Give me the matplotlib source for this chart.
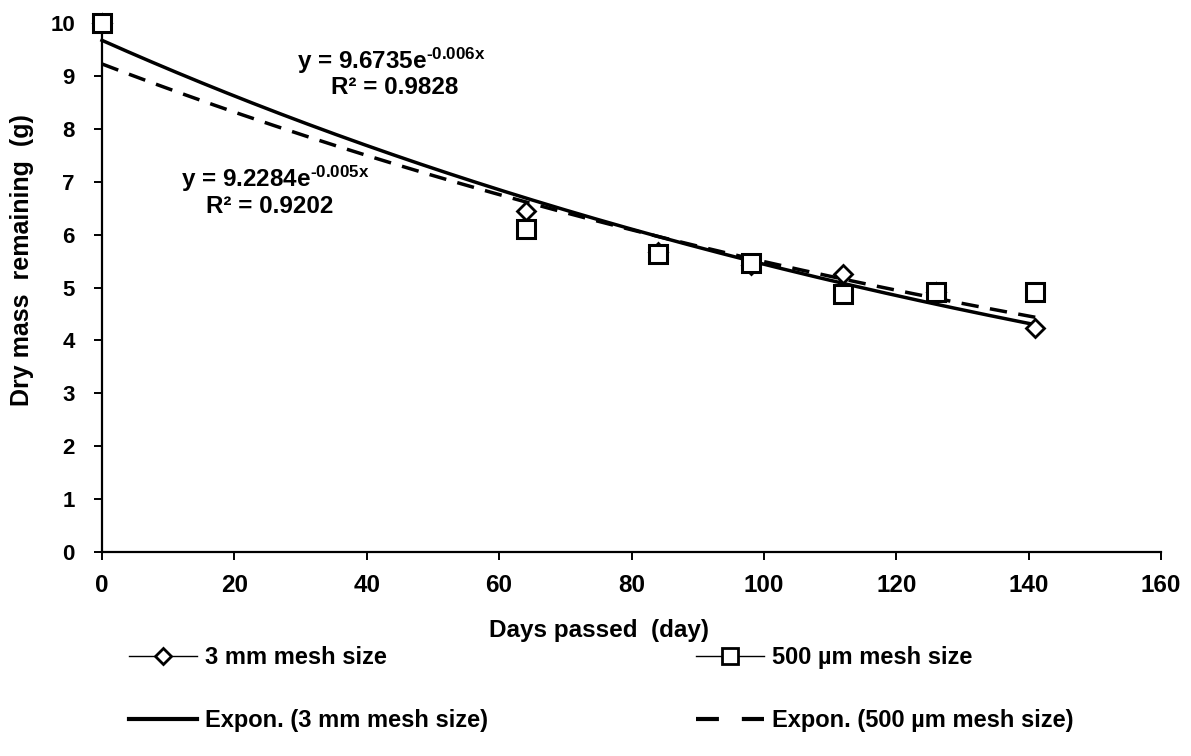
import numpy as np
import matplotlib
matplotlib.use("Agg")
import matplotlib.pyplot as plt
from matplotlib.lines import Line2D

# ---- data ----
days = [0, 64, 84, 98, 112, 126, 141]
mass_3mm = [10.0, 6.44, 5.68, 5.42, 5.25, 4.92, 4.24]
mass_500um = [10.0, 6.10, 5.64, 5.47, 4.87, 4.92, 4.92]
label_3mm = "3 mm mesh size"
label_500 = "500 µm mesh size"
label_fit_3mm = "Expon. (3 mm mesh size)"
label_fit_500 = "Expon. (500 µm mesh size)"
eq_3mm = ["y = 9.6735e$^{\\text{-0.006x}}$", "R² = 0.9828"]
eq_500 = ["y = 9.2284e$^{\\text{-0.005x}}$", "R² = 0.9202"]
x_ticks = [0, 20, 40, 60, 80, 100, 120, 140, 160]
y_ticks = [0, 1, 2, 3, 4, 5, 6, 7, 8, 9, 10]

plt.rcParams['font.family'] = ['Liberation Sans', 'DejaVu Sans']
plt.rcParams['font.weight'] = 'bold'
plt.rcParams['mathtext.fontset'] = 'custom'
plt.rcParams['mathtext.rm'] = 'Liberation Sans:bold'
plt.rcParams['mathtext.it'] = 'Liberation Sans:bold'
plt.rcParams['mathtext.bf'] = 'Liberation Sans:bold'
plt.rcParams['mathtext.default'] = 'rm'

W, H = 1191, 756
fig = plt.figure(figsize=(W / 100, H / 100), dpi=100)
ax = fig.add_axes([102 / W, 1 - 552 / H, (1161 - 102) / W, (552 - 23) / H])

# exponential trend lines fitted to the data
x_arr = np.array(days, dtype=float)
def expfit(y):
    b, a = np.polyfit(x_arr, np.log(np.array(y)), 1)
    return np.exp(a), b

xx = np.linspace(0, max(days), 300)
a1, b1 = expfit(mass_3mm)
a2, b2 = expfit(mass_500um)
ax.plot(xx, a1 * np.exp(b1 * xx), color='black', lw=2.5, zorder=3, clip_on=False)
ax.plot(xx, a2 * np.exp(b2 * xx), color='black', lw=2.5, dashes=(5, 3.3), zorder=3, clip_on=False)

ax.plot(days, mass_3mm, linestyle='none', marker='D', ms=9, mfc='white', mec='black',
        mew=2.0, zorder=4, clip_on=False)
ax.plot(days, mass_500um, linestyle='none', marker='s', ms=12.5, mfc='white', mec='black',
        mew=2.2, zorder=5, clip_on=False)

ax.set_xlim(0, 160)
ax.set_ylim(0, 10)
ax.set_xticks(x_ticks)
ax.set_yticks(y_ticks)
for s in ['top', 'right']:
    ax.spines[s].set_visible(False)
for s in ['left', 'bottom']:
    ax.spines[s].set_linewidth(1.6)
ax.tick_params(axis='both', direction='out', length=5.5, width=1.4, colors='black')
ax.tick_params(axis='x', labelsize=17.5, pad=10)
ax.tick_params(axis='y', labelsize=16, pad=14)
for lab in ax.get_xticklabels() + ax.get_yticklabels():
    lab.set_fontweight('bold')

ax.set_xlabel("Days passed  (day)", fontsize=17.5, fontweight='bold')
ax.xaxis.set_label_coords((599 - 102) / 1059, (552 - 619) / 529)
ax.set_ylabel("Dry mass  remaining  (g)", fontsize=18, fontweight='bold')
ax.yaxis.set_label_coords((34 - 102) / 1059, (552 - 260) / 529)

# trendline equations
ax.text(43.7, 9.28, eq_3mm[0], ha='center', va='center', fontsize=17.5, fontweight='bold')
ax.text(44.2, 8.79, eq_3mm[1], ha='center', va='center', fontsize=17.5, fontweight='bold')
ax.text(26.1, 7.05, eq_500[0], ha='center', va='center', fontsize=17.5, fontweight='bold')
ax.text(25.3, 6.53, eq_500[1], ha='center', va='center', fontsize=17.5, fontweight='bold')

# legend
h1 = Line2D([], [], color='black', lw=1.0, marker='D', ms=8, mfc='white', mec='black', mew=2)
h2 = Line2D([], [], color='black', lw=1.0, marker='s', ms=11, mfc='white', mec='black', mew=2)
h3 = Line2D([], [], color='black', lw=3.0)
h4 = Line2D([], [], color='black', lw=3.0, dashes=(5.5, 5.5, 5.5, 12))
common = dict(loc='upper left', frameon=False, borderpad=0, borderaxespad=0,
              handlelength=2.9, handletextpad=0.3, labelspacing=1.7,
              prop={'weight': 'bold', 'size': 17})
leg1 = fig.legend([h1, h3], [label_3mm, label_fit_3mm], bbox_to_anchor=(129 / W, 1 - 646 / H), **common)
leg2 = fig.legend([h2, h4], [label_500, label_fit_500], bbox_to_anchor=(696 / W, 1 - 646 / H), **common)

fig.savefig("out.png", dpi=100)
